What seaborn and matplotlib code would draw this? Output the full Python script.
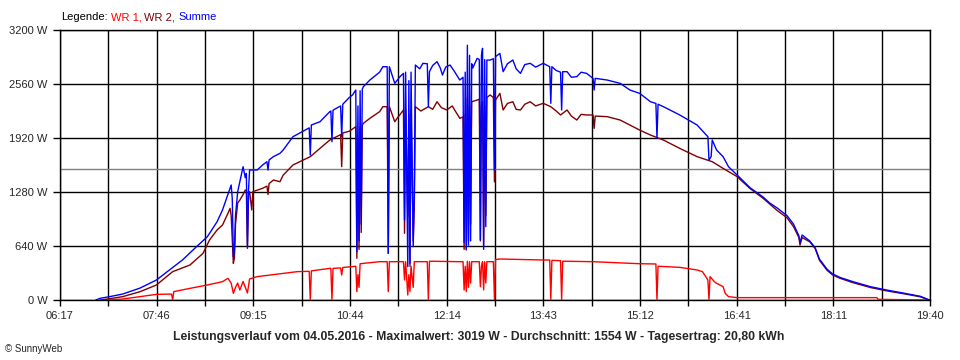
import matplotlib
matplotlib.use("Agg")
import matplotlib.pyplot as plt
import seaborn as sns
import pandas as pd

# ---------------- data ----------------
sum_time = ["06:50", "06:54", "07:03", "07:15", "07:31", "07:46", "07:58", "08:10", "08:23", "08:33",
            "08:42", "08:47", "08:52", "08:55", "08:56", "08:57", "08:58", "08:59", "09:01", "09:03",
            "09:06", "09:08", "09:09", "09:10", "09:11", "09:12", "09:19", "09:24", "09:28", "09:29",
            "09:30", "09:34", "09:40", "09:43", "09:52", "10:07", "10:08", "10:09", "10:17", "10:26",
            "10:27", "10:28", "10:29", "10:36", "10:37", "10:38", "10:44", "10:47", "10:50", "10:51",
            "10:52", "10:53", "10:54", "10:55", "10:56", "10:57", "11:03", "11:12", "11:15", "11:19",
            "11:20", "11:21", "11:26", "11:28", "11:31", "11:34", "11:35", "11:36", "11:38", "11:39",
            "11:40", "11:41", "11:43", "11:44", "11:45", "11:49", "11:52", "11:56", "11:57", "11:58",
            "12:01", "12:05", "12:08", "12:10", "12:13", "12:17", "12:21", "12:26", "12:29", "12:30",
            "12:31", "12:32", "12:33", "12:34", "12:35", "12:36", "12:37", "12:38", "12:42", "12:44",
            "12:45", "12:46", "12:47", "12:48", "12:49", "12:50", "12:51", "12:54", "12:57", "12:58",
            "12:59", "13:03", "13:06", "13:10", "13:15", "13:18", "13:22", "13:26", "13:31", "13:36",
            "13:43", "13:49", "13:50", "13:51", "13:55", "13:59", "14:00", "14:01", "14:05", "14:09",
            "14:14", "14:18", "14:23", "14:29", "14:30", "14:31", "14:42", "14:54", "15:03", "15:12",
            "15:22", "15:27", "15:28", "15:29", "15:34", "15:49", "16:05", "16:15", "16:16", "16:18",
            "16:19", "16:23", "16:29", "16:34", "16:42", "16:54", "17:06", "17:12", "17:19", "17:28",
            "17:34", "17:39", "17:40", "17:42", "17:49", "17:54", "17:58", "18:05", "18:10", "18:17",
            "18:29", "18:45", "19:00", "19:15", "19:31", "19:38", "19:40"]
sum_w = [0, 20, 40, 71, 142, 237, 355, 474, 632, 750,
         928, 1067, 1250, 1363, 1200, 513, 600, 1000, 1284, 1400,
         1580, 1450, 1500, 632, 1300, 1541, 1541, 1600, 1639, 1540,
         1660, 1699, 1738, 1778, 1935, 2040, 1718, 2074, 2113, 2232,
         2240, 1876, 2250, 2300, 1935, 2320, 2400, 2430, 2489, 573,
         2300, 700, 2480, 900, 2500, 2528, 2607, 2700, 2765, 2765,
         553, 2765, 2568, 2600, 2650, 2686, 948, 2700, 395, 2600,
         435, 2700, 632, 1264, 2785, 2740, 2805, 2800, 2291, 2706,
         2780, 2825, 2750, 2666, 2760, 2785, 2710, 2607, 2640, 680,
         2700, 600, 3019, 650, 2900, 700, 2800, 2750, 2864, 2850,
         711, 2900, 2983, 600, 2850, 869, 2844, 2844, 2860, 1541,
         2884, 2923, 2706, 2800, 2844, 2740, 2686, 2790, 2805, 2760,
         2805, 2765, 2331, 2765, 2720, 2700, 2252, 2706, 2706, 2640,
         2647, 2700, 2686, 2627, 2489, 2627, 2607, 2568, 2489, 2449,
         2350, 2330, 1916, 2320, 2291, 2193, 2074, 1935, 1659, 1700,
         1896, 1778, 1699, 1580, 1481, 1330, 1220, 1150, 1090, 1000,
         900, 760, 680, 770, 700, 620, 484, 365, 310, 267,
         217, 158, 118, 83, 44, 8, 0]

wr2_time = ["06:54", "07:00", "07:15", "07:31", "07:46", "08:01", "08:17", "08:29", "08:35", "08:42",
            "08:47", "08:52", "08:54", "08:55", "08:57", "08:58", "08:59", "09:01", "09:03", "09:06",
            "09:08", "09:09", "09:10", "09:11", "09:12", "09:14", "09:15", "09:24", "09:28", "09:29",
            "09:30", "09:34", "09:40", "09:43", "09:52", "10:08", "10:26", "10:36", "10:37", "10:38",
            "10:44", "10:50", "10:51", "10:52", "10:53", "10:54", "10:55", "10:56", "10:57", "11:03",
            "11:12", "11:15", "11:19", "11:20", "11:21", "11:26", "11:28", "11:34", "11:35", "11:36",
            "11:38", "11:39", "11:40", "11:41", "11:43", "11:44", "11:45", "11:50", "11:57", "12:01",
            "12:05", "12:09", "12:14", "12:19", "12:26", "12:29", "12:30", "12:31", "12:32", "12:33",
            "12:34", "12:35", "12:36", "12:37", "12:42", "12:44", "12:45", "12:46", "12:47", "12:48",
            "12:49", "12:50", "12:51", "12:54", "12:57", "12:58", "12:59", "13:03", "13:06", "13:10",
            "13:15", "13:18", "13:22", "13:26", "13:31", "13:36", "13:43", "13:50", "13:55", "13:59",
            "14:05", "14:09", "14:14", "14:18", "14:23", "14:29", "14:30", "14:31", "14:42", "14:54",
            "15:03", "15:12", "15:22", "15:34", "15:49", "16:05", "16:19", "16:29", "16:42", "16:54",
            "17:06", "17:19", "17:28", "17:34", "17:39", "17:40", "17:42", "17:49", "17:54", "17:58",
            "18:05", "18:10", "18:17", "18:29", "18:45", "19:00", "19:15", "19:31", "19:38", "19:40"]
wr2_w = [0, 10, 40, 99, 178, 336, 415, 553, 711, 830,
         889, 1027, 1086, 1000, 435, 500, 900, 1150, 1185, 1250,
         1304, 1290, 612, 1250, 1284, 1067, 1284, 1324, 1350, 1250,
         1380, 1422, 1402, 1480, 1600, 1699, 1896, 1960, 1580, 1980,
         2000, 2054, 494, 1900, 600, 2050, 800, 2070, 2094, 2153,
         2232, 2291, 2291, 553, 2291, 2113, 2150, 2252, 790, 2250,
         988, 2200, 400, 2250, 700, 1100, 2291, 2240, 2291, 2260,
         2350, 2280, 2252, 2300, 2153, 2170, 600, 2200, 593, 2400,
         700, 2300, 900, 2350, 2370, 2380, 700, 2300, 2350, 650,
         2300, 1000, 2400, 2430, 2400, 1400, 2370, 2449, 2252, 2330,
         2350, 2260, 2252, 2320, 2350, 2300, 2331, 2291, 2240, 2193,
         2252, 2180, 2133, 2200, 2193, 2193, 2034, 2180, 2173, 2133,
         2074, 2014, 1955, 1896, 1797, 1699, 1639, 1560, 1462, 1320,
         1205, 1060, 975, 870, 740, 650, 740, 690, 610, 470,
         352, 298, 257, 205, 148, 108, 76, 38, 5, 0]

wr1_time = ["07:00", "07:15", "07:31", "07:46", "08:00", "08:01", "08:02", "08:17", "08:33", "08:47",
            "08:52", "08:55", "08:57", "08:59", "09:01", "09:03", "09:06", "09:10", "09:12", "09:19",
            "09:56", "10:07", "10:08", "10:09", "10:26", "10:27", "10:28", "10:29", "10:36", "10:37",
            "10:38", "10:50", "10:51", "10:52", "10:53", "10:54", "11:12", "11:19", "11:20", "11:21",
            "11:34", "11:35", "11:36", "11:38", "11:39", "11:40", "11:41", "11:43", "11:44", "11:56",
            "11:57", "11:58", "12:26", "12:29", "12:30", "12:31", "12:32", "12:33", "12:34", "12:35",
            "12:36", "12:37", "12:44", "12:45", "12:46", "12:47", "12:48", "12:49", "12:50", "12:51",
            "12:57", "12:58", "12:59", "13:03", "13:43", "13:49", "13:50", "13:51", "13:59", "14:00",
            "14:01", "14:29", "15:12", "15:27", "15:28", "15:29", "15:49", "16:05", "16:10", "16:15",
            "16:16", "16:17", "16:21", "16:23", "16:29", "16:31", "16:34", "16:42", "18:51", "18:52",
            "19:40"]
wr1_w = [0, 12, 40, 67, 70, 0, 99, 138, 178, 217,
         257, 200, 79, 150, 201, 118, 220, 83, 250, 277,
         336, 340, 0, 345, 375, 375, 0, 375, 380, 296,
         385, 400, 99, 300, 150, 430, 454, 454, 99, 454,
         454, 237, 454, 59, 300, 100, 400, 150, 454, 454,
         0, 460, 454, 454, 118, 400, 100, 460, 150, 454,
         200, 454, 454, 158, 400, 454, 120, 454, 200, 454,
         454, 0, 480, 486, 474, 474, 0, 470, 466, 0,
         460, 454, 430, 427, 0, 400, 387, 356, 336, 237,
         0, 277, 217, 198, 158, 79, 40, 28, 28, 8,
         0]

y_ticks = [0, 640, 1280, 1920, 2560, 3200]
x_tick_labels = ["06:17", "07:46", "09:15", "10:44", "12:14", "13:43", "15:12", "16:41", "18:11", "19:40"]
average_w = 1554
legend_parts = ["Legende:", "WR 1,", "WR 2,", "Summe"]
legend_colors = ["black", "#ff0000", "#800000", "#0000ff"]
title_text = ("Leistungsverlauf vom 04.05.2016 - Maximalwert: 3019 W - "
              "Durchschnitt: 1554 W - Tagesertrag: 20,80 kWh")


def to_min(s):
    h, m = s.split(":")
    return int(h) * 60 + int(m)


sns.set_style("white")
plt.rcParams["font.family"] = ["Liberation Sans", "DejaVu Sans"]

df_sum = pd.DataFrame({"t": [to_min(s) for s in sum_time], "w": sum_w})
df_wr2 = pd.DataFrame({"t": [to_min(s) for s in wr2_time], "w": wr2_w})
df_wr1 = pd.DataFrame({"t": [to_min(s) for s in wr1_time], "w": wr1_w})

fig = plt.figure(figsize=(9.6, 3.6), dpi=100)
ax = fig.add_axes([60 / 960, 60 / 360, 870 / 960, 270 / 360])

t0 = to_min(x_tick_labels[0])
t1 = to_min(x_tick_labels[-1])
n_int = 2 * (len(x_tick_labels) - 1)
x_ticks = [t0 + i * (t1 - t0) / n_int for i in range(n_int + 1)]

# grid
for xt in x_ticks:
    ax.axvline(xt, color="black", lw=1, zorder=1)
for yt in y_ticks:
    ax.axhline(yt, color="black", lw=1, zorder=1)
ax.axhline(average_w, color="#808080", lw=1, zorder=1)

kw = dict(estimator=None, linewidth=1.0, legend=False, ax=ax)
sns.lineplot(data=df_wr1, x="t", y="w", color="#ff0000", zorder=3, **kw)
sns.lineplot(data=df_wr2, x="t", y="w", color="#800000", zorder=4, **kw)
sns.lineplot(data=df_sum, x="t", y="w", color="#0000ff", zorder=5, **kw)

ax.set_xlim(t0, t1)
ax.set_ylim(0, 3200)
ax.set_xlabel("")
ax.set_ylabel("")
ax.set_xticks(x_ticks)
ax.set_xticklabels([x_tick_labels[i // 2] if i % 2 == 0 else "" for i in range(len(x_ticks))])
ax.set_yticks(y_ticks)
ax.set_yticklabels([f"{v} W" for v in y_ticks])
ax.tick_params(axis="x", length=4, width=1, color="black", labelsize=8, pad=4, direction="out", bottom=True)
ax.tick_params(axis="y", length=5, width=1, color="black", labelsize=8, pad=4, direction="out", left=True)
for sp in ax.spines.values():
    sp.set_color("black")
    sp.set_linewidth(1)
    sp.set_visible(True)
ax.set_facecolor("white")

# coloured legend line, pieces chained one after another
prev = fig.text(61 / 960, 1 - 17 / 360, legend_parts[0], color=legend_colors[0],
                fontsize=8, va="center", ha="left")
for s, c in zip(legend_parts[1:], legend_colors[1:]):
    prev = ax.annotate(s, xy=(1, 0.5), xycoords=prev, xytext=(3, 0), textcoords="offset pixels",
                       color=c, fontsize=8, va="center", ha="left", annotation_clip=False)

fig.text(479 / 960, 1 - 337 / 360, title_text, fontsize=8.8, fontweight="bold",
         ha="center", va="center")
fig.text(5 / 960, 1 - 349 / 360, "\u00a9 SunnyWeb", fontsize=7, ha="left", va="center")

fig.savefig("out.png", dpi=100, facecolor="white")
